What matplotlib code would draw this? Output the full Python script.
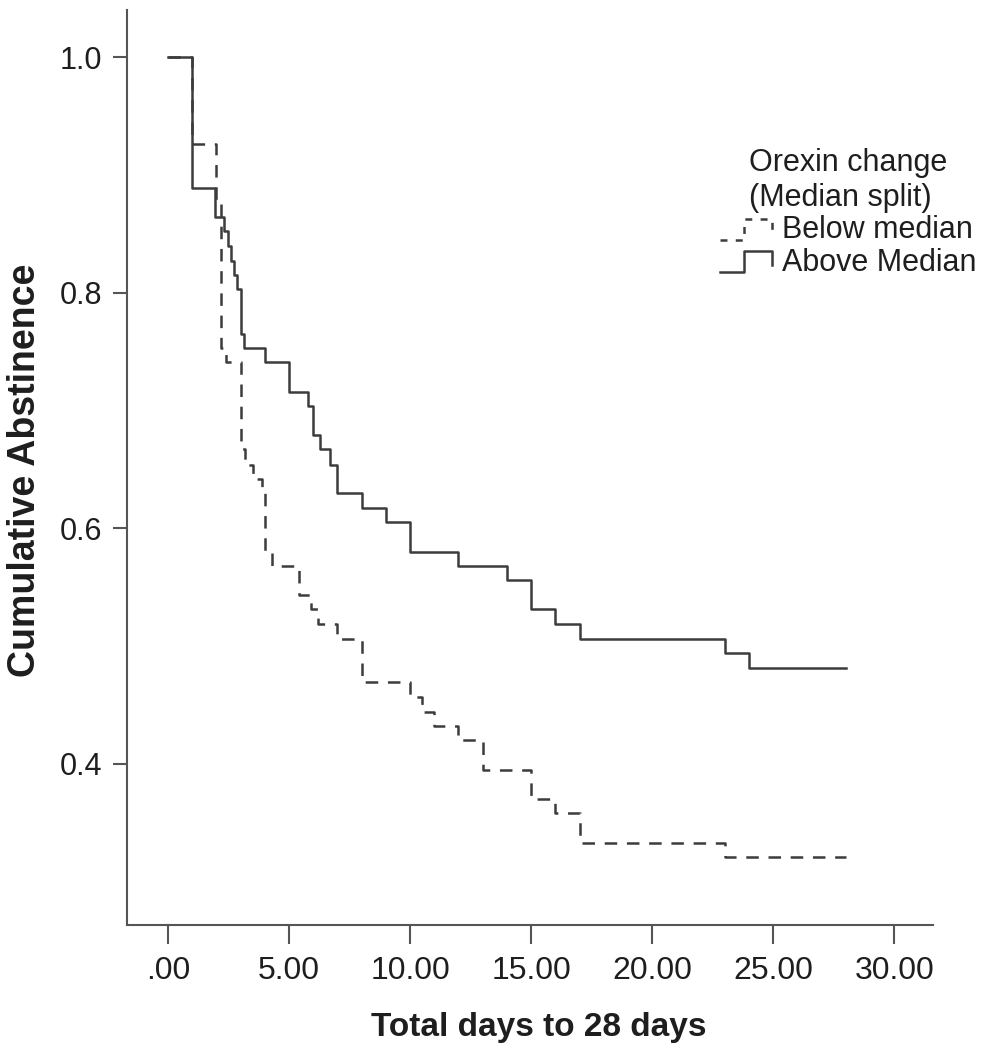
import matplotlib
matplotlib.use("Agg")
import matplotlib.pyplot as plt
from matplotlib.legend_handler import HandlerBase
from matplotlib.lines import Line2D

plt.rcParams['font.family'] = ['Liberation Sans', 'DejaVu Sans']
plt.rcParams['lines.scale_dashes'] = False

# Kaplan-Meier step data (days, cumulative abstinence)
above_days = [0, 1.0, 1.95, 2.3, 2.5, 2.6, 2.75, 2.85, 3.0, 3.15, 4.0, 5.0, 5.8, 6.0,
              6.3, 6.7, 7.0, 8.0, 9.0, 10.0, 12.0, 14.0, 15.0, 16.0, 17.0, 23.0, 24.0, 28.0]
above_surv = [1.0, 0.889, 0.864, 0.852, 0.840, 0.827, 0.815, 0.803, 0.765, 0.753, 0.741,
              0.716, 0.704, 0.679, 0.667, 0.654, 0.630, 0.617, 0.605, 0.580, 0.568, 0.556,
              0.531, 0.519, 0.506, 0.494, 0.481, 0.481]

below_days = [0, 1.0, 2.0, 2.2, 2.4, 3.0, 3.2, 3.5, 3.9, 4.0, 4.3, 5.4, 5.9, 6.2, 7.0,
              8.0, 10.0, 10.5, 11.0, 12.0, 13.0, 15.0, 16.0, 17.0, 23.0, 28.0]
below_surv = [1.0, 0.926, 0.877, 0.753, 0.741, 0.667, 0.654, 0.642, 0.630, 0.580, 0.568,
              0.543, 0.531, 0.519, 0.506, 0.469, 0.457, 0.444, 0.432, 0.420, 0.395, 0.370,
              0.358, 0.333, 0.321, 0.321]

x_ticks = [0, 5, 10, 15, 20, 25, 30]
x_tick_labels = ['.00', '5.00', '10.00', '15.00', '20.00', '25.00', '30.00']
y_ticks = [0.4, 0.6, 0.8, 1.0]
y_tick_labels = ['0.4', '0.6', '0.8', '1.0']

LINE_COLOR = '#3c3c3c'
AXIS_COLOR = '#555555'
TEXT_COLOR = '#1e1e1e'
DASH = (0, (9, 7))


class StepHandler(HandlerBase):
    """Draws a small step shape as the legend key, like SPSS does."""
    def create_artists(self, legend, orig_handle, xdescent, ydescent, width, height,
                       fontsize, trans):
        x0 = -xdescent
        y0 = -ydescent
        xs = [x0, x0 + 0.45 * width, x0 + 0.45 * width, x0 + width, x0 + width]
        ys = [y0 + 0.1 * height, y0 + 0.1 * height, y0 + 0.8 * height,
              y0 + 0.8 * height, y0 + 0.35 * height]
        line = Line2D(xs, ys, color=orig_handle.get_color(),
                      linewidth=orig_handle.get_linewidth(), transform=trans)
        if orig_handle.get_linestyle() != '-':
            line.set_dashes((5, 6))
        return [line]


fig = plt.figure(figsize=(9.94, 10.5), dpi=100)
ax = fig.add_axes([127 / 994, 125 / 1050, (933 - 127) / 994, (925 - 10) / 1050])

below_line, = ax.step(below_days, below_surv, where='post', color=LINE_COLOR,
                      linewidth=1.8, linestyle=DASH, label='Below median')
above_line, = ax.step(above_days, above_surv, where='post', color=LINE_COLOR,
                      linewidth=1.8, label='Above Median')

ax.set_xlim(-1.69, 31.6)
ax.set_ylim(0.263, 1.04)

for side in ['top', 'right']:
    ax.spines[side].set_visible(False)
for side in ['left', 'bottom']:
    ax.spines[side].set_color(AXIS_COLOR)
    ax.spines[side].set_linewidth(1.5)

ax.set_xticks(x_ticks)
ax.set_xticklabels(x_tick_labels)
ax.set_yticks(y_ticks)
ax.set_yticklabels(y_tick_labels)
ax.tick_params(axis='x', length=14, width=1.5, color=AXIS_COLOR, pad=8,
               labelsize=23, labelcolor=TEXT_COLOR)
ax.tick_params(axis='y', length=10, width=1.5, color=AXIS_COLOR, pad=8,
               labelsize=22, labelcolor=TEXT_COLOR)

ax.set_xlabel('Total days to 28 days', fontsize=24, fontweight='bold',
              color=TEXT_COLOR)
ax.xaxis.set_label_coords(0.511, -0.095)
ax.set_ylabel('Cumulative Abstinence', fontsize=27, fontweight='bold',
              color=TEXT_COLOR)
ax.yaxis.set_label_coords(-0.104, 0.497)

leg = fig.legend(handles=[below_line, above_line],
                 labels=['Below median', 'Above Median'],
                 title='Orexin change\n(Median split)',
                 handler_map={Line2D: StepHandler()},
                 loc='upper right', bbox_to_anchor=(976 / 994, 1 - 148 / 1050),
                 frameon=False, fontsize=22, title_fontsize=22,
                 handlelength=1.7, handleheight=1.15, handletextpad=0.3,
                 labelspacing=0.0, borderaxespad=0, borderpad=0)
for t in leg.get_texts():
    t.set_color(TEXT_COLOR)
leg.get_title().set_color(TEXT_COLOR)

fig.savefig('out.png', dpi=100)
